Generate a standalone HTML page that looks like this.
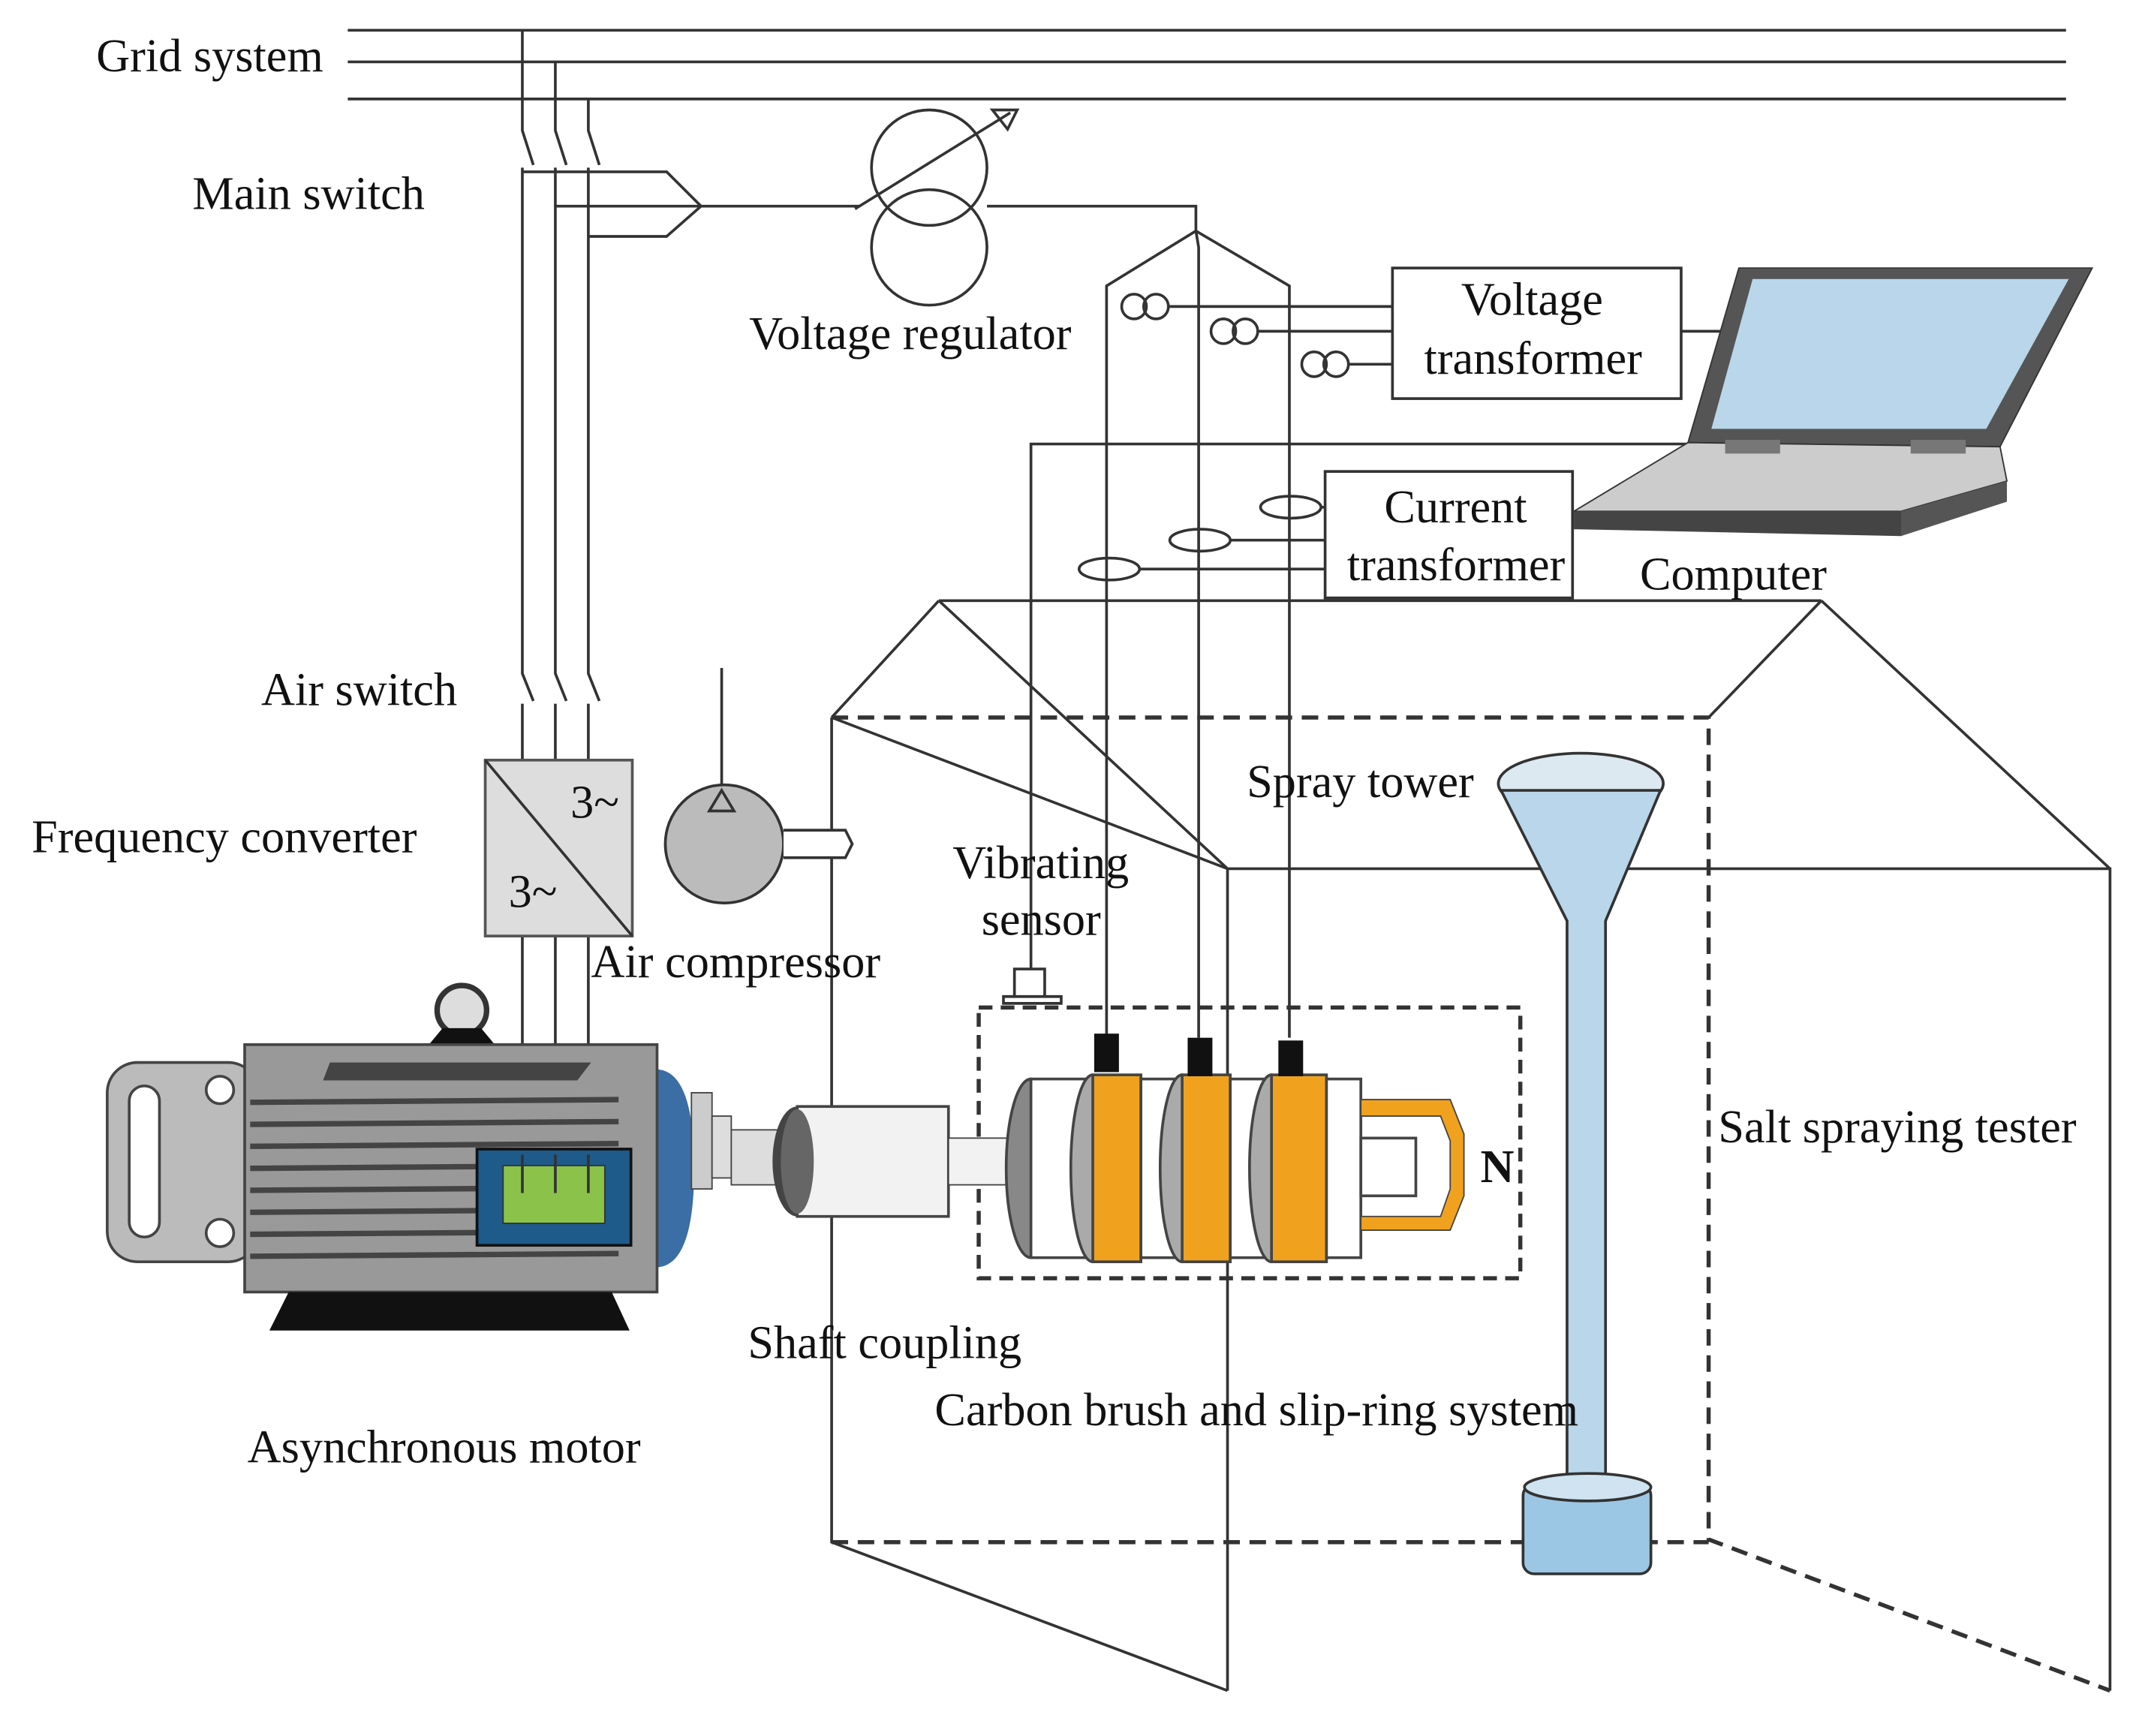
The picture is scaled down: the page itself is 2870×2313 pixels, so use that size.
<!DOCTYPE html>
<html><head><meta charset="utf-8"><style>html,body{margin:0;padding:0;background:#fff}svg{display:block}text{font-family:"Liberation Serif",serif;font-size:34px;fill:#111}</style></head><body>
<svg width="2870" height="2313" viewBox="0 0 1567 1263" preserveAspectRatio="none" xmlns="http://www.w3.org/2000/svg">
<rect width="1567" height="1263" fill="#fff"/>
<g stroke="#333" stroke-width="2" fill="none">
<line x1="253" y1="22" x2="1503" y2="22"/><line x1="253" y1="45" x2="1503" y2="45"/><line x1="253" y1="72" x2="1503" y2="72"/>
<path d="M380 22V95L388 120M380 122V490L388 510M380 512V840"/>
<path d="M404 45V95L412 120M404 122V490L412 510M404 512V840"/>
<path d="M428 72V95L436 120M428 122V490L436 510M428 512V840"/>
<path d="M380 125H485L510 150L485 172H428M404 150H625"/>
<circle cx="676" cy="122" r="42"/><circle cx="676" cy="180" r="42"/>
<line x1="622" y1="152" x2="735" y2="82"/><path d="M722 80L740 80L733 94Z"/>
<path d="M718 150H870V168L805 208V755M870 168L938 208V755M870 168L872 180V755"/>
<circle cx="825" cy="223" r="9"/><circle cx="841" cy="223" r="9"/>
<circle cx="890" cy="241" r="9"/><circle cx="906" cy="241" r="9"/>
<circle cx="956" cy="265" r="9"/><circle cx="972" cy="265" r="9"/>
<path d="M850 223H1013M915 241H1013M981 265H1013"/>
<rect x="1013" y="195" width="210" height="95"/>
<rect x="964" y="343" width="180" height="92"/>
<ellipse cx="807" cy="414" rx="22" ry="8"/><ellipse cx="873" cy="393" rx="22" ry="8"/><ellipse cx="939" cy="369" rx="22" ry="8"/>
<path d="M829 414H964M895 393H964M961 369H964"/>
<path d="M1223 241H1265M750 705V323H1260"/>
<path d="M893 632H1535V1230M893 632V1230M605 522L893 632M605 522V1122L893 1230M683 437H1325M683 437L605 522M683 437L893 632M1325 437L1243 522M1325 437L1535 632"/>
<path stroke-dasharray="12,7" stroke-width="3" d="M605 522H1243V1120L1535 1230M605 1122H1243"/>
<rect x="712" y="733" width="394" height="197" stroke-dasharray="10,6" stroke-width="3"/>
<line x1="525" y1="486" x2="525" y2="575"/>
</g>
<polygon points="1265,195 1522,195 1455,325 1228,322" fill="#555" stroke="#333"/>
<polygon points="1275,203 1505,203 1445,312 1245,312" fill="#b9d6ea"/>
<polygon points="1228,322 1455,325 1460,350 1383,372 1145,372" fill="#ccc" stroke="#333"/>
<polygon points="1145,372 1383,372 1383,390 1145,385" fill="#444"/>
<polygon points="1383,372 1460,350 1460,365 1383,390" fill="#555"/>
<rect x="1255" y="320" width="40" height="10" fill="#777"/><rect x="1390" y="320" width="40" height="10" fill="#777"/>
<rect x="353" y="553" width="107" height="128" fill="#ddd" stroke="#555" stroke-width="2"/>
<line x1="353" y1="553" x2="460" y2="681" stroke="#333" stroke-width="2"/>
<text x="415" y="595" font-size="20">3~</text><text x="370" y="660" font-size="20">3~</text>
<circle cx="527" cy="614" r="43" fill="#bbb" stroke="#333" stroke-width="2"/>
<path d="M516 590L525 575L534 590Z" fill="none" stroke="#333" stroke-width="2"/>
<path d="M570 604H615L620 614L615 624H570" fill="#fff" stroke="#333" stroke-width="2"/>
<rect x="78" y="773" width="110" height="145" rx="22" fill="#bbb" stroke="#444" stroke-width="2"/>
<rect x="94" y="790" width="22" height="110" rx="11" fill="#fff" stroke="#444" stroke-width="2"/>
<circle cx="160" cy="793" r="10" fill="#fff" stroke="#444" stroke-width="2"/><circle cx="160" cy="897" r="10" fill="#fff" stroke="#444" stroke-width="2"/>
<circle cx="336" cy="735" r="18" fill="#ddd" stroke="#333" stroke-width="4"/>
<path d="M312 760H360L350 748H322Z" fill="#111"/>
<path d="M477 778Q505 778 505 850Q505 922 477 922Z" fill="#3a6ea5"/>
<rect x="178" y="760" width="300" height="180" fill="#999" stroke="#444" stroke-width="2"/>
<g stroke="#444" stroke-width="4">
<line x1="182" y1="802" x2="450" y2="800"/><line x1="182" y1="818" x2="450" y2="816"/><line x1="182" y1="834" x2="450" y2="832"/><line x1="182" y1="850" x2="450" y2="848"/><line x1="182" y1="866" x2="450" y2="864"/><line x1="182" y1="882" x2="450" y2="880"/><line x1="182" y1="898" x2="450" y2="896"/><line x1="182" y1="914" x2="450" y2="912"/>
</g>
<polygon points="240,773 430,773 420,786 235,786" fill="#444"/>
<polygon points="210,940 445,940 458,968 196,968" fill="#111"/>
<rect x="347" y="836" width="112" height="70" fill="#1e5a8a" stroke="#111" stroke-width="2"/>
<rect x="366" y="848" width="74" height="42" fill="#8bc34a" stroke="#333"/>
<g stroke="#333" stroke-width="2"><line x1="380" y1="840" x2="380" y2="868"/><line x1="404" y1="840" x2="404" y2="868"/><line x1="428" y1="840" x2="428" y2="868"/></g>
<rect x="503" y="795" width="15" height="70" fill="#ccc" stroke="#444"/>
<rect x="518" y="812" width="14" height="45" fill="#ddd" stroke="#444"/>
<rect x="532" y="822" width="45" height="40" fill="#ddd" stroke="#444"/>
<ellipse cx="580" cy="845" rx="18" ry="40" fill="#444"/>
<rect x="580" y="805" width="110" height="80" fill="#f2f2f2" stroke="#444" stroke-width="2"/>
<ellipse cx="580" cy="845" rx="12" ry="38" fill="#666"/>
<rect x="690" y="828" width="60" height="34" fill="#f2f2f2" stroke="#444"/>
<g stroke="#444" stroke-width="2">
<ellipse cx="750" cy="850" rx="18" ry="65" fill="#888"/>
<rect x="750" y="785" width="40" height="130" fill="#fff"/>
<ellipse cx="795" cy="850" rx="16" ry="68" fill="#aaa"/>
<rect x="795" y="782" width="35" height="136" fill="#f0a21e"/>
<rect x="830" y="785" width="30" height="130" fill="#fff"/>
<ellipse cx="860" cy="850" rx="16" ry="68" fill="#aaa"/>
<rect x="860" y="782" width="35" height="136" fill="#f0a21e"/>
<rect x="895" y="785" width="30" height="130" fill="#fff"/>
<ellipse cx="925" cy="850" rx="16" ry="68" fill="#aaa"/>
<rect x="925" y="782" width="40" height="136" fill="#f0a21e"/>
<rect x="965" y="785" width="25" height="130" fill="#fff"/>
<rect x="990" y="828" width="40" height="42" fill="#fff"/>
</g>
<path d="M990 800H1055L1065 825V870L1055 895H990V885H1048L1055 865V830L1048 812H990Z" fill="#f0a21e" stroke="#444"/>
<rect x="796" y="752" width="18" height="28" fill="#111"/><rect x="864" y="755" width="18" height="28" fill="#111"/><rect x="930" y="757" width="18" height="26" fill="#111"/>
<path d="M738 725V705H760V725M730 725H772V730H730Z" fill="#fff" stroke="#333" stroke-width="2"/>
<ellipse cx="1150" cy="570" rx="60" ry="22" fill="#dde9f0" stroke="#333" stroke-width="2"/>
<path d="M1092 575L1140 670V1085H1168V670L1208 575Z" fill="#b9d6ea" stroke="#333" stroke-width="2"/>
<rect x="1108" y="1080" width="93" height="65" rx="8" fill="#9cc7e4" stroke="#333" stroke-width="2"/>
<ellipse cx="1155" cy="1082" rx="46" ry="10" fill="#cfe3f0" stroke="#333" stroke-width="2"/>
<text x="70" y="52">Grid system</text>
<text x="140" y="152">Main switch</text>
<text x="545" y="254">Voltage regulator</text>
<text x="1063" y="229">Voltage</text><text x="1036" y="272">transformer</text>
<text x="1007" y="380">Current</text><text x="980" y="422">transformer</text>
<text x="1193" y="429">Computer</text>
<text x="190" y="513">Air switch</text>
<text x="23" y="620">Frequency converter</text>
<text x="907" y="580">Spray tower</text>
<text x="693" y="639">Vibrating</text><text x="714" y="680">sensor</text>
<text x="430" y="711">Air compressor</text>
<text x="1077" y="860" font-weight="bold">N</text>
<text x="1250" y="831">Salt spraying tester</text>
<text x="544" y="988">Shaft coupling</text>
<text x="680" y="1037">Carbon brush and slip-ring system</text>
<text x="180" y="1064">Asynchronous motor</text>
</svg>
</body></html>
